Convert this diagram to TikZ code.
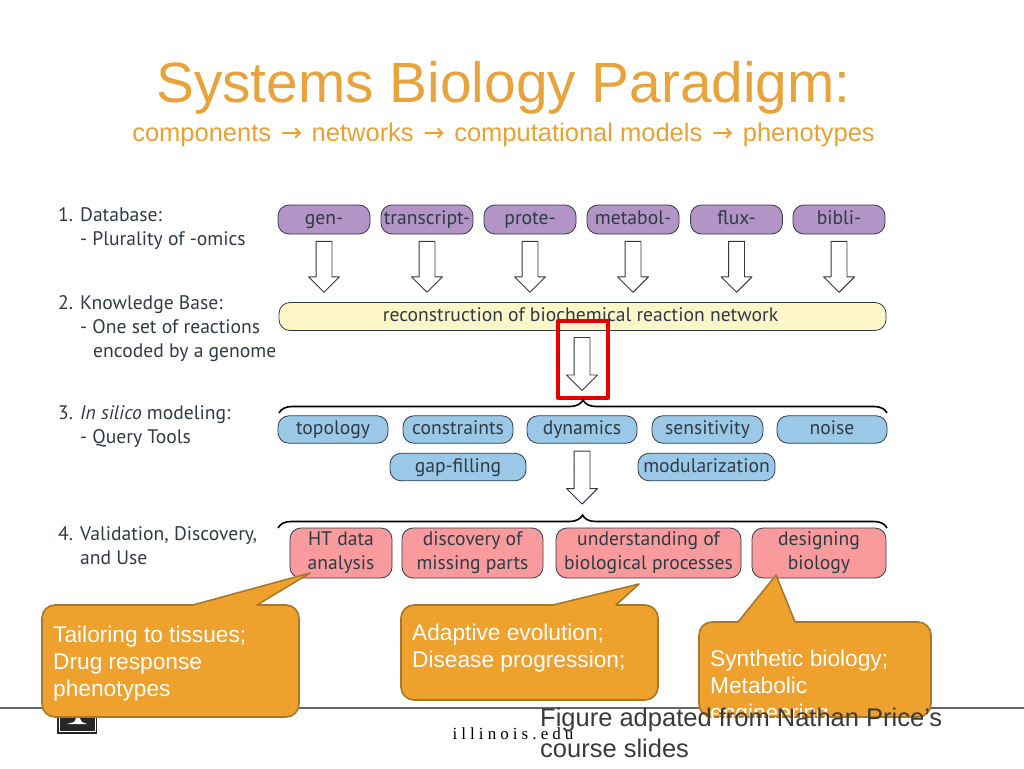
\documentclass[tikz,border=0pt]{standalone}
\usepackage{fontspec}
\setmainfont{Liberation Sans}
\newfontfamily\sbfig{PT Sans}
\newfontfamily\sbarrow{DejaVu Sans}
\newfontfamily\sbserif{Liberation Serif}
\usepackage{xcolor}
\usetikzlibrary{arrows.meta,decorations.pathreplacing,positioning,shapes.arrows}
\definecolor{sbTitle}{HTML}{E9A33C}
\definecolor{sbSubtitle}{HTML}{EBA02F}
\definecolor{sbCallout}{HTML}{EFA12D}
\definecolor{sbCalloutLine}{HTML}{A87828}
\definecolor{sbInk}{HTML}{2F3B44}
\definecolor{sbPurple}{HTML}{B295C6}
\definecolor{sbYellow}{HTML}{FDF6C9}
\definecolor{sbBlue}{HTML}{9CC8E8}
\definecolor{sbRed}{HTML}{F99A9D}
\definecolor{sbFoot}{HTML}{3A3A3A}
\tikzset{
  sb diagram/.style={x=1pt,y=-1pt,line join=round},
  sb pill/.style={draw=sbInk, line width=0.8pt, rounded corners=11pt, inner sep=0pt,
    align=center, text=sbInk, font=\sbfig\fontsize{19.6}{24}\selectfont},
  sb single/.style={sb pill, text height=13.5pt, text depth=3.5pt},
  sb omic/.style={sb single, fill=sbPurple, minimum width=92pt, minimum height=29pt},
  sb query/.style={sb single, fill=sbBlue, minimum height=27.5pt},
  sb use/.style={sb pill, fill=sbRed, minimum height=50pt},
  sb bigarrow/.style={shape=single arrow, draw=sbInk, fill=white, line width=0.9pt,
    rotate=-90, anchor=tail, inner sep=0pt, text height=15pt, text depth=0pt,
    single arrow head extend=7.5pt, single arrow head indent=0pt},
  sb brace/.style={draw=black, line width=1.6pt,
    decorate, decoration={brace,amplitude=13pt}},
  sb step/.style={anchor=north west, inner sep=0pt, align=left, text=sbInk,
    font=\sbfig\fontsize{19.6}{24}\selectfont},
  sb callout/.style={draw=sbCalloutLine, fill=sbCallout, line width=1.6pt},
  sb callout text/.style={anchor=north west, inner sep=0pt, align=left, text=white,
    font=\fontsize{22.7}{27}\selectfont},
  sb foot/.style={anchor=north west, inner sep=0pt, align=left, text=sbFoot,
    font=\fontsize{25.5}{31}\selectfont}
}
\newcommand{\sbnum}[1]{\makebox[22pt][l]{#1}}
\newcommand{\sbto}{\hspace{2.5pt}{\sbarrow→}\hspace{2.5pt}}
\begin{document}
\begin{tikzpicture}[sb diagram]
\useasboundingbox (0,0) rectangle (1024,768);
\node[text=sbTitle,font=\fontsize{56.8}{60}\selectfont] (title) at (503.5,88) {Systems Biology Paradigm:};
\node[text=sbSubtitle,font=\fontsize{25.5}{28}\selectfont] (subtitle) at (503.5,135)
  {components \sbto{} networks \sbto{} computational models \sbto{} phenotypes};

\node[sb step] (database) at (58,207) {\sbnum{1.}Database:\\\hspace*{22pt}- Plurality of -omics};
\node[sb step] (knowledge) at (58,295) {\sbnum{2.}Knowledge Base:\\\hspace*{22pt}- One set of reactions\\\hspace*{35pt}encoded by a genome};
\node[sb step] (modeling) at (58,405) {\sbnum{3.}\textit{In silico} modeling:\\\hspace*{22pt}- Query Tools};
\node[sb step] (validation) at (58,526) {\sbnum{4.}Validation, Discovery,\\\hspace*{22pt}and Use};

\foreach \name/\cx/\lab in {gen/324/gen-,transcript/427/transcript-,prote/530/prote-,metabol/633/metabol-,flux/736.5/flux-,bibli/839/bibli-}{
  \node[sb omic] (\name) at (\cx,219.5) {\lab};
  \node[sb bigarrow,minimum height=51pt] (arrow\name) at ([yshift=-6.5pt]\name.south) {};
}
\node[sb single,fill=sbYellow,minimum width=607pt,minimum height=28pt] (network) at (582.5,316.5) {\hspace*{-4pt}reconstruction of biochemical reaction network};
\coordinate (mid) at (582,337);
\node[sb bigarrow,minimum height=53pt] (arrownetwork) at (mid) {};
\draw[red!90!black,line width=4pt] (558,321) rectangle (608,398);

\coordinate (querybraceleft) at (279,413);
\coordinate (querybraceright) at (887,413);
\draw[sb brace] (querybraceleft) -- (querybraceright);
\foreach \name/\cx/\boxw/\cy/\lab in {topology/333/110/429.5/topology,constraints/458/110/429.5/constraints,dynamics/582/110/429.5/dynamics,sensitivity/707.5/111/429.5/sensitivity,noise/832/110/429.5/noise,gapfilling/458/136/467/gap-filling,modularization/706.5/137/467/modularization}{
  \node[sb query,minimum width=\boxw] (\name) at (\cx,\cy) {\lab};
}
\node[sb bigarrow,minimum height=53pt] (arrowquery) at ([yshift=-7pt]dynamics.south) {};

\coordinate (usebraceleft) at (278,528);
\coordinate (usebraceright) at (887,528);
\draw[sb brace] (usebraceleft) -- (usebraceright);
\node[sb use,minimum width=102pt] (htdata) at (341,553) {HT data\\analysis};
\node[sb use,minimum width=141pt] (discovery) at (472.5,553) {discovery of\\missing parts};
\node[sb use,minimum width=185pt] (understanding) at (648.5,553) {understanding of\\biological processes};
\node[sb use,minimum width=134pt] (designing) at (819,553) {designing\\biology};

\draw[black!60,line width=1.5pt] (0,708) -- (1024,708);
\fill[black!85] (57,709) rectangle (97,734);
\draw[white,line width=0.8pt] (59,709) -- (59,731) -- (95,731) -- (95,709);
\fill[white] (67,724) -- (74,722) -- (78,715) -- (82,722) -- (87,724) -- cycle;
\node[text=black,inner sep=0pt,font=\sbserif\fontsize{17}{18}\selectfont] (illinois) at (513,734) {\addfontfeatures{LetterSpace=24}illinois.edu};

\foreach \xa/\ya/\xb/\yb/\nl/\tx/\ty/\nr in {42/605/299/717/193/310/573/257,401/605/658/700/553/639/584/616,699/622/931/717/738/776/575/795}{
  \draw[sb callout] (\nl,\ya) -- (\tx,\ty) -- (\nr,\ya) -- ({\xb-13},\ya)
    arc[start angle=90,end angle=0,radius=13pt] -- (\xb,{\yb-13})
    arc[start angle=0,end angle=-90,radius=13pt] -- ({\xa+13},\yb)
    arc[start angle=-90,end angle=-180,radius=13pt] -- (\xa,{\ya+13})
    arc[start angle=180,end angle=90,radius=13pt] -- cycle;
}
\node[sb callout text] (tailoring) at (53,626) {Tailoring to tissues;\\Drug response\\phenotypes};
\node[sb callout text] (adaptive) at (412,624) {Adaptive evolution;\\Disease progression;};
\node[sb callout text] (synthetic) at (710,650) {Synthetic biology;\\Metabolic\\engineering};
\node[sb foot] (credit) at (540,707.5) {Figure adpated from Nathan Price’s\\course slides};
\end{tikzpicture}
\end{document}
